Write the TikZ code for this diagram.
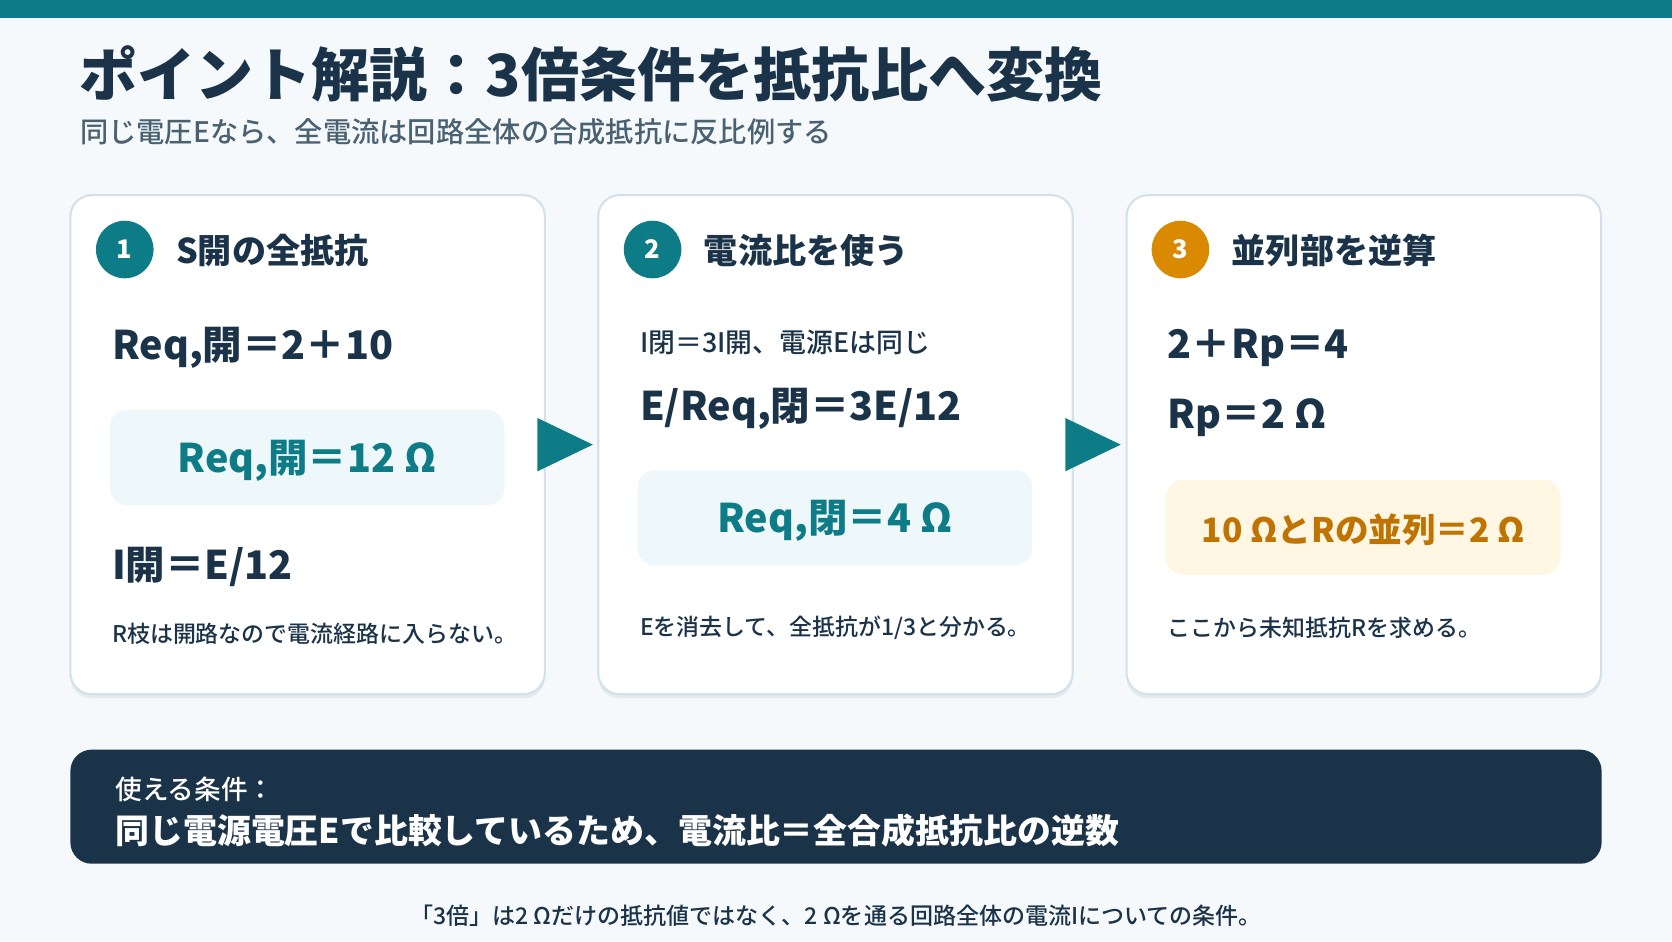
\documentclass[tikz,border=0pt]{standalone}
\usepackage{fontspec}
\setmainfont{Noto Sans CJK JP}
\newfontfamily\jpmed{Noto Sans CJK JP}[UprightFont={* Medium}]
\usetikzlibrary{shadows,calc}
\definecolor{cnavy}{HTML}{1B3349}
\definecolor{cbg}{HTML}{F5F9FC}
\definecolor{cteal}{HTML}{0E7C86}
\definecolor{cborder}{HTML}{D3E2EA}
\definecolor{cboxt}{HTML}{EEF7F9}
\definecolor{corange}{HTML}{D98A00}
\definecolor{cotext}{HTML}{BF7300}
\definecolor{cboxo}{HTML}{FFF7E4}
\definecolor{csub}{HTML}{4A6172}
\newcommand\fs[1]{\fontsize{#1}{#1}\selectfont}
\begin{document}
\begin{tikzpicture}[x=1pt,y=-1pt,
  txt/.style={inner sep=0pt, anchor=west, text=cnavy},
  card/.style={draw=cborder, line width=2pt, fill=white, rounded corners=20pt,
    minimum width=445pt, minimum height=468pt,
    drop shadow={shadow xshift=0pt, shadow yshift=-4pt, opacity=0.06, fill=black}},
  numc/.style={circle, minimum size=54pt, inner sep=0pt, text=white, font=\fs{24}\bfseries},
  ctitle/.style={txt, font=\fs{32}\bfseries},
  formula/.style={txt, font=\fs{37}\bfseries},
  desc/.style={txt, font=\fs{21.5}\jpmed},
  resbox/.style={rounded corners=16pt, minimum width=370pt, minimum height=89pt, inner sep=0pt},
  restext/.style={inner sep=0pt, font=\fs{37}\bfseries, text=cteal},
  arrowtri/.style={fill=cteal}
]
\useasboundingbox (0,0) rectangle (1568,882.5);
\fill[cbg] (0,0) rectangle (1568,882.5);
\fill[cteal] (0,0) rectangle (1568,17);

% title
\node[txt, font=\fs{54.5}\bfseries] (title) at (74,69) {ポイント解説：3倍条件を抵抗比へ変換};
\node[txt, font=\fs{26.5}\jpmed, text=csub] (subtitle) at (75,124) {同じ電圧Eなら、全電流は回路全体の合成抵抗に反比例する};

% cards
\node[card] (c1) at (288.5,417) {};
\node[card] (c2) at (783.5,417) {};
\node[card] (c3) at (1279,417) {};

% arrows
\fill[arrowtri] ($(c1.east)+(-8,-25)$) -- ($(c1.east)+(44,0)$) -- ($(c1.east)+(-8,25)$) -- cycle;
\fill[arrowtri] ($(c2.east)+(-8,-25)$) -- ($(c2.east)+(44,0)$) -- ($(c2.east)+(-8,25)$) -- cycle;

% card 1
\node[numc, fill=cteal] (n1) at (117,234) {1};
\node[ctitle] (t1) at (165,235) {S開の全抵抗};
\node[formula] (f1a) at (105,326) {Req,開＝2＋10};
\node[resbox, fill=cboxt] (b1) at (288,429) {};
\node[restext] (b1t) at ($(b1.center)+(0,3)$) {Req,開＝12 Ω};
\node[formula] (f1b) at (105,532) {I開＝E/12};
\node[desc] (d1) at (105,594) {R枝は開路なので電流経路に入らない。};

% card 2
\node[numc, fill=cteal] (n2) at (612,234) {2};
\node[ctitle] (t2) at (660,235) {電流比を使う};
\node[txt, font=\fs{25.2}\jpmed] (f2a) at (600,321) {I閉＝3I開、電源Eは同じ};
\node[formula] (f2b) at (600,383) {E/Req,閉＝3E/12};
\node[resbox, fill=cboxt] (b2) at (783,485.5) {};
\node[restext] (b2t) at ($(b2.center)+(0,3)$) {Req,閉＝4 Ω};
\node[desc] (d2) at (600,589) {Eを消去して、全抵抗が1/3と分かる。};

% card 3
\node[numc, fill=corange] (n3) at (1107,234) {3};
\node[ctitle] (t3) at (1155,235) {並列部を逆算};
\node[formula] (f3a) at (1095,326) {2＋Rp＝4};
\node[formula] (f3b) at (1095,392) {Rp＝2 Ω};
\node[resbox, fill=cboxo] (b3) at (1278.5,494.5) {};
\node[restext, font=\fs{31.5}\bfseries, text=cotext] (b3t) at ($(b3.center)+(0,2)$) {10 ΩとRの並列＝2 Ω};
\node[desc] (d3) at (1095,589) {ここから未知抵抗Rを求める。};

% condition box
\node[fill=cnavy, rounded corners=20pt, minimum width=1436pt, minimum height=107pt, inner sep=0pt] (cond) at (784,756.5) {};
\node[txt, text=white, font=\fs{25}\jpmed] (condh) at (108,740) {使える条件：};
\node[txt, text=white, font=\fs{31.8}\bfseries] (condt) at (108,779) {同じ電源電圧Eで比較しているため、電流比＝全合成抵抗比の逆数};

% footer
\node[inner sep=0pt, text=cnavy, font=\fs{21.6}\jpmed] (foot) at (784,859) {「3倍」は2 Ωだけの抵抗値ではなく、2 Ωを通る回路全体の電流Iについての条件。};
\end{tikzpicture}
\end{document}
